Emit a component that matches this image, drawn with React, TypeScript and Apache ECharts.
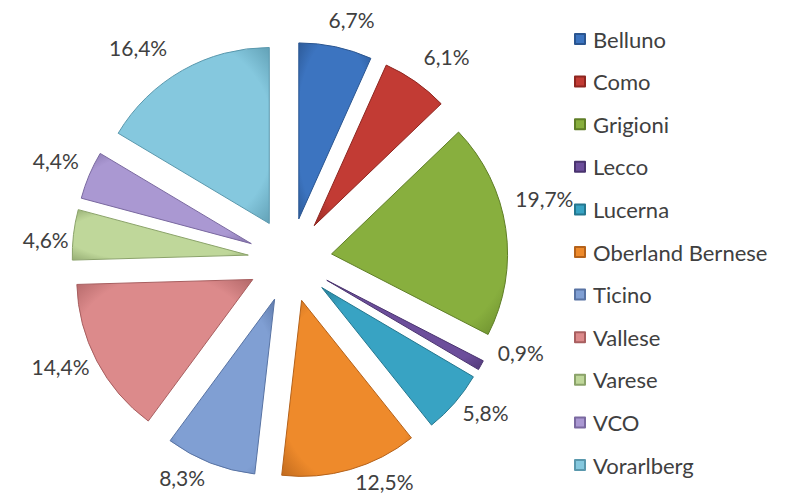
import React, { useEffect, useRef } from "react";
import * as echarts from "echarts";

const categories = [
  "Belluno",
  "Como",
  "Grigioni",
  "Lecco",
  "Lucerna",
  "Oberland Bernese",
  "Ticino",
  "Vallese",
  "Varese",
  "VCO",
  "Vorarlberg",
];
const values = [6.7, 6.1, 19.7, 0.9, 5.8, 12.5, 8.3, 14.4, 4.6, 4.4, 16.4];
const colors = [
  "#3C74C0",
  "#C23B34",
  "#88AF3E",
  "#6C4E9B",
  "#38A3C3",
  "#EE8A2B",
  "#809FD3",
  "#DC8A8B",
  "#BFD79A",
  "#AA98D2",
  "#85C8DE",
];
const borders = [
  "#2A5590",
  "#8E2620",
  "#5F7E27",
  "#4A346F",
  "#24778F",
  "#B5621A",
  "#5873A3",
  "#A85F60",
  "#8BA36A",
  "#7A69A0",
  "#5A98AD",
];
// small label nudges (best-fit placement of the original)
const labelNudge = [
  [9, 5],
  [12, 2],
  [6, -25],
  [11, -29],
  [6, -12],
  [25, -20],
  [-16, -16],
  [-7, -10],
  [5, 9],
  [-3, -2],
  [-28, 6],
];

const fmt = (v: number) => v.toFixed(1).replace(".", ",") + "%";

export default function App() {
  const ref = useRef<HTMLDivElement>(null);
  useEffect(() => {
    if (!ref.current) return;
    const chart = echarts.init(ref.current, undefined, { renderer: "svg" });
    const sliceData = categories.map((name, i) => ({
      name,
      value: values[i],
      selected: true,
      itemStyle: {
        color: {
          type: "radial",
          x: 0.5,
          y: 0.5,
          r: 0.75,
          colorStops: [
            { offset: 0, color: colors[i] },
            { offset: 0.7, color: colors[i] },
            { offset: 1, color: borders[i] },
          ],
        },
        borderColor: borders[i],
        borderWidth: 1,
      },
    }));
    const labelData = categories.map((name, i) => ({
      name,
      value: values[i],
      label: { offset: labelNudge[i] },
    }));
    chart.setOption({
      animation: false,
      backgroundColor: "#ffffff",
      color: colors,
      legend: {
        orient: "vertical",
        left: 569,
        top: 22,
        itemWidth: 10,
        itemHeight: 10,
        itemGap: 18.6,
        icon: "rect",
        data: categories,
        selectedMode: false,
        textStyle: {
          fontFamily: "Lato",
          fontSize: 22,
          color: "#404040",
          lineHeight: 24,
          padding: [0, 0, 0, 3],
        },
      },
      series: [
        {
          type: "pie",
          center: [290, 260],
          radius: [0, 176],
          startAngle: 90,
          clockwise: true,
          selectedMode: "multiple",
          selectedOffset: 42,
          emphasis: { disabled: true },
          label: { show: false },
          labelLine: { show: false },
          data: sliceData,
        },
        {
          type: "pie",
          center: [290, 260],
          radius: [236, 260],
          startAngle: 90,
          clockwise: true,
          silent: true,
          emphasis: { disabled: true },
          itemStyle: { color: "rgba(0,0,0,0)" },
          label: {
            show: true,
            position: "inside",
            rotate: 0,
            fontFamily: "Lato",
            fontSize: 21,
            color: "#404040",
            formatter: (p: any) => fmt(p.value),
          },
          labelLine: { show: false },
          data: labelData,
        },
      ],
    });
    return () => chart.dispose();
  }, []);
  return (
    <div
      ref={ref}
      style={{ position: "fixed", left: 0, top: 0, width: 790, height: 494 }}
    />
  );
}
